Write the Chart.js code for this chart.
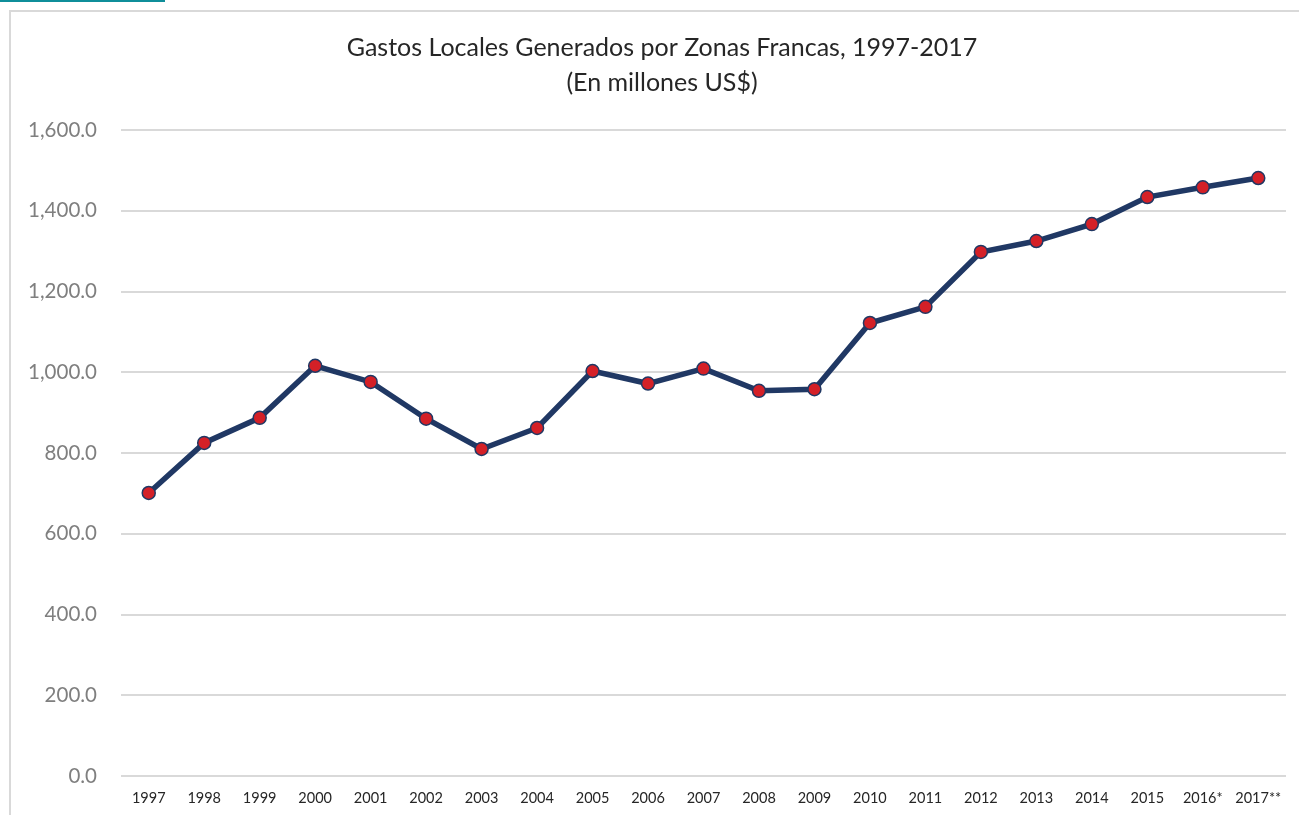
<!DOCTYPE html>
<html lang="es">
<head>
  <meta charset="UTF-8">
  <title>Gastos Locales Generados por Zonas Francas</title>
  <script src="https://cdn.jsdelivr.net/npm/chart.js"></script>
  <style>
    body {
      margin: 0;
      background-color: white;
      overflow: hidden;
    }

    .wrap {
      position: relative;
      width: 1299px;
      height: 815px;
    }

    .tab-line {
      position: absolute;
      left: 0;
      top: 0;
      width: 165px;
      height: 2px;
      background-color: #0f8e9a;
    }

    .frame {
      position: absolute;
      left: 9px;
      top: 10px;
      width: 1400px;
      height: 900px;
      border: 2px solid #d9d9d9;
    }

    canvas {
      position: absolute;
      left: 0;
      top: 0;
    }
  </style>
</head>
<body>
  <div class="wrap">
    <div class="tab-line"></div>
    <div class="frame"></div>
    <canvas id="lineChart" width="1299" height="815"></canvas>
  </div>

  <script>
    // Data
    const years = ["1997", "1998", "1999", "2000", "2001", "2002", "2003", "2004", "2005", "2006",
                   "2007", "2008", "2009", "2010", "2011", "2012", "2013", "2014", "2015", "2016*", "2017**"];
    const gastosLocales = [701, 825, 887, 1016, 976, 885, 810, 862, 1003, 972,
                           1009, 954, 958, 1122, 1162, 1298, 1325, 1367, 1434, 1458, 1481];
    const titleLines = ["Gastos Locales Generados por Zonas Francas, 1997-2017", "(En millones US$)"];

    // title is centred on the framed box, not the canvas, so nudge its box right a bit
    const shiftTitle = {
      id: "shiftTitle",
      afterLayout(chart) {
        if (chart.titleBlock) chart.titleBlock.left += 38;
      }
    };

    const ctx = document.getElementById("lineChart").getContext("2d");
    const chart = new Chart(ctx, {
      type: "line",
      data: {
        labels: years,
        datasets: [{
          label: "Gastos locales",
          data: gastosLocales,
          borderColor: "#203864",
          borderWidth: 5.5,
          pointRadius: 6.5,
          pointBackgroundColor: "#d42027",
          pointBorderColor: "#203864",
          pointBorderWidth: 1.5,
          tension: 0
        }]
      },
      options: {
        responsive: false,
        animation: false,
        layout: {
          padding: { left: 0, right: 13, top: 0, bottom: 0 }
        },
        plugins: {
          legend: { display: false },
          tooltip: { enabled: false },
          title: {
            display: true,
            text: titleLines,
            color: "#262626",
            font: { family: "Lato", size: 25, weight: "normal", lineHeight: 1.4 },
            padding: { top: 30.5, bottom: 29.5 }
          }
        },
        scales: {
          x: {
            offset: true,
            grid: { display: false, drawTicks: false },
            border: { display: false },
            ticks: {
              color: "#262626",
              font: { family: "Lato", size: 14.5 },
              maxRotation: 0,
              autoSkip: false,
              padding: 14
            },
            afterFit: function (axis) { axis.height = 39; }
          },
          y: {
            min: 0,
            max: 1600,
            grid: { color: "#d9d9d9", lineWidth: 2, drawTicks: false },
            border: { display: false },
            ticks: {
              stepSize: 200,
              color: "#7f7f7f",
              font: { family: "Lato", size: 20.5 },
              padding: 24,
              callback: function (value) {
                return value.toLocaleString("en-US", { minimumFractionDigits: 1, maximumFractionDigits: 1 });
              }
            },
            afterFit: function (axis) { axis.width = 121; }
          }
        }
      },
      plugins: [shiftTitle]
    });
  </script>
</body>
</html>
